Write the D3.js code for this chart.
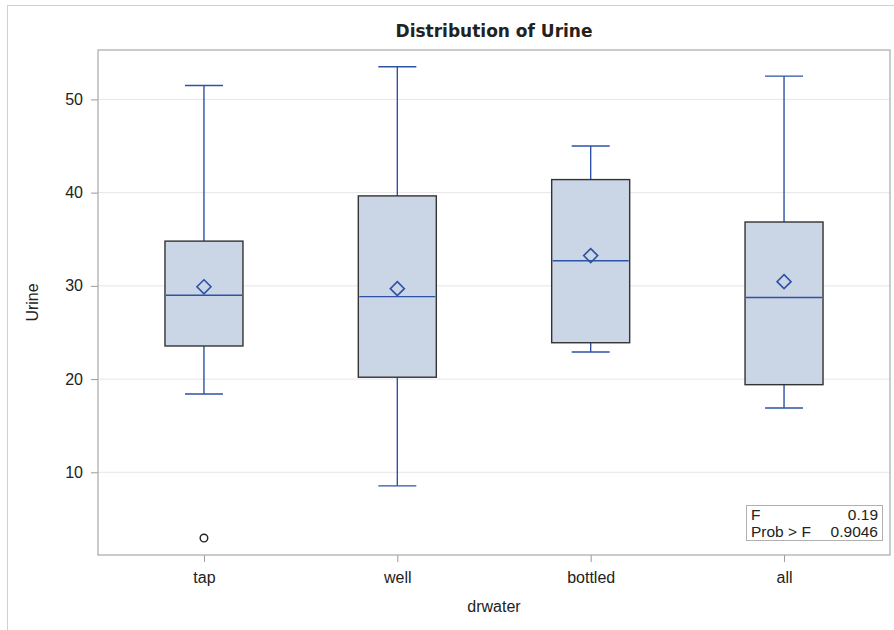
<!DOCTYPE html>
<html lang="en">

<head>
  <meta charset="UTF-8">
  <title>Distribution of Urine</title>
  <style>
    body { margin: 0; background: #fff; }
    text { font-family: "Liberation Sans", Arial, sans-serif; fill: #222; }
  </style>
</head>

<body>
  <svg id="svg" width="894" height="630"></svg>

  <script src="https://d3js.org/d3.v7.min.js"></script>
  <script>
    // values
    const categories = ["tap", "well", "bottled", "all"]
    const whiskerLow = [18.4, 8.55, 22.9, 16.9]
    const q1 = [23.55, 20.2, 23.9, 19.4]
    const median = [29.0, 28.85, 32.7, 28.75]
    const q3 = [34.8, 39.65, 41.4, 36.85]
    const whiskerHigh = [51.5, 53.5, 45.0, 52.5]
    const means = [29.9, 29.7, 33.25, 30.45]
    const outliers = [{ cat: "tap", value: 2.95 }]
    const yTicks = [10, 20, 30, 40, 50]
    const statRows = [["F", "0.19"], ["Prob > F", "0.9046"]]

    const boxes = categories.map((c, i) => ({
      cat: c, lo: whiskerLow[i], q1: q1[i], med: median[i], q3: q3[i], hi: whiskerHigh[i], mean: means[i]
    }))

    const plotLeft = 98, plotRight = 890, plotTop = 50, plotBottom = 555
    const blue = "#2d52a6"

    const svg = d3.select("#svg")

    // outer frame
    svg.append("rect")
      .attr("x", 7.5).attr("y", 5.5)
      .attr("width", 1000).attr("height", 1000)
      .attr("fill", "none").attr("stroke", "#d0d0d0")

    const xScale = d3.scalePoint()
      .domain(categories)
      .range([plotLeft, plotRight])
      .padding(0.548)

    const yScale = d3.scaleLinear()
      .domain([1.13, 55.3])
      .range([plotBottom, plotTop])

    // grid
    svg.append("g")
      .selectAll("line")
      .data(yTicks)
      .enter()
      .append("line")
      .attr("x1", plotLeft).attr("x2", plotRight)
      .attr("y1", d => yScale(d)).attr("y2", d => yScale(d))
      .attr("stroke", "#e6e6e6")

    // axes
    const yAxis = svg.append("g")
      .attr("transform", `translate(${plotLeft},0)`)
      .call(d3.axisLeft(yScale).tickValues(yTicks).tickSize(7).tickPadding(8))
    const xAxis = svg.append("g")
      .attr("transform", `translate(0,${plotBottom})`)
      .call(d3.axisBottom(xScale).tickSize(7))

    for (const ax of [yAxis, xAxis]) {
      ax.select(".domain").remove()
      ax.selectAll(".tick line").attr("stroke", "#9a9a9a")
      ax.selectAll(".tick text")
        .style("font-family", '"Liberation Sans", Arial, sans-serif')
        .style("font-size", "16px")
        .attr("fill", "#222")
    }
    xAxis.selectAll(".tick text").attr("y", 28).attr("dy", 0)

    const bw = 78
    const cap = 38

    const g = svg.append("g")
      .selectAll("g")
      .data(boxes)
      .enter()
      .append("g")

    // whiskers
    g.append("line")
      .attr("x1", d => xScale(d.cat)).attr("x2", d => xScale(d.cat))
      .attr("y1", d => yScale(d.q3)).attr("y2", d => yScale(d.hi))
      .attr("stroke", blue).attr("stroke-width", 1.4)
    g.append("line")
      .attr("x1", d => xScale(d.cat)).attr("x2", d => xScale(d.cat))
      .attr("y1", d => yScale(d.q1)).attr("y2", d => yScale(d.lo))
      .attr("stroke", blue).attr("stroke-width", 1.4)
    g.append("line")
      .attr("x1", d => xScale(d.cat) - cap / 2).attr("x2", d => xScale(d.cat) + cap / 2)
      .attr("y1", d => yScale(d.hi)).attr("y2", d => yScale(d.hi))
      .attr("stroke", blue).attr("stroke-width", 1.4)
    g.append("line")
      .attr("x1", d => xScale(d.cat) - cap / 2).attr("x2", d => xScale(d.cat) + cap / 2)
      .attr("y1", d => yScale(d.lo)).attr("y2", d => yScale(d.lo))
      .attr("stroke", blue).attr("stroke-width", 1.4)

    // box
    g.append("rect")
      .attr("x", d => xScale(d.cat) - bw / 2)
      .attr("y", d => yScale(d.q3))
      .attr("width", bw)
      .attr("height", d => yScale(d.q1) - yScale(d.q3))
      .attr("fill", "#cad5e5")
      .attr("stroke", "#333")
      .attr("stroke-width", 1.4)

    // median
    g.append("line")
      .attr("x1", d => xScale(d.cat) - bw / 2 + 1).attr("x2", d => xScale(d.cat) + bw / 2 - 1)
      .attr("y1", d => yScale(d.med)).attr("y2", d => yScale(d.med))
      .attr("stroke", blue).attr("stroke-width", 1.4)

    // mean diamond
    g.append("path")
      .attr("d", d => {
        const cx = xScale(d.cat), cy = yScale(d.mean), r = 7
        return d3.line()([[cx, cy - r], [cx + r, cy], [cx, cy + r], [cx - r, cy]]) + "Z"
      })
      .attr("fill", "none")
      .attr("stroke", blue)
      .attr("stroke-width", 1.6)

    // outliers
    svg.append("g")
      .selectAll("circle")
      .data(outliers)
      .enter()
      .append("circle")
      .attr("cx", d => xScale(d.cat))
      .attr("cy", d => yScale(d.value))
      .attr("r", 3.8)
      .attr("fill", "#fff")
      .attr("stroke", "#222")
      .attr("stroke-width", 1.4)

    // plot frame
    svg.append("rect")
      .attr("x", plotLeft).attr("y", plotTop)
      .attr("width", plotRight - plotLeft).attr("height", plotBottom - plotTop)
      .attr("fill", "none").attr("stroke", "#a8a8a8").attr("stroke-width", 1.2)

    // stats inset
    const inset = svg.append("g")
    inset.append("rect")
      .attr("x", 746.5).attr("y", 505.5)
      .attr("width", 136).attr("height", 35)
      .attr("fill", "#fff").attr("stroke", "#b0b0b0")
    inset.selectAll("text.lab")
      .data(statRows)
      .enter()
      .append("text")
      .text(d => d[0])
      .attr("x", 751)
      .attr("y", (d, i) => 520 + i * 16.7)
      .style("font-size", "15.5px")
    inset.selectAll("text.val")
      .data(statRows)
      .enter()
      .append("text")
      .text(d => d[1])
      .attr("x", 878)
      .attr("y", (d, i) => 520 + i * 16.7)
      .attr("text-anchor", "end")
      .style("font-size", "15.5px")

    // titles
    svg.append("text")
      .text("Distribution of Urine")
      .attr("x", (plotLeft + plotRight) / 2)
      .attr("y", 37)
      .attr("text-anchor", "middle")
      .style("font-family", '"DejaVu Sans", sans-serif')
      .style("font-size", "17px")
      .style("font-weight", "bold")
      .attr("fill", "#000")

    svg.append("text")
      .text("drwater")
      .attr("x", (plotLeft + plotRight) / 2)
      .attr("y", 612)
      .attr("text-anchor", "middle")
      .style("font-size", "16px")

    svg.append("text")
      .text("Urine")
      .attr("transform", `translate(38,${(plotTop + plotBottom) / 2}) rotate(-90)`)
      .attr("text-anchor", "middle")
      .style("font-size", "16px")
  </script>
</body>

</html>
